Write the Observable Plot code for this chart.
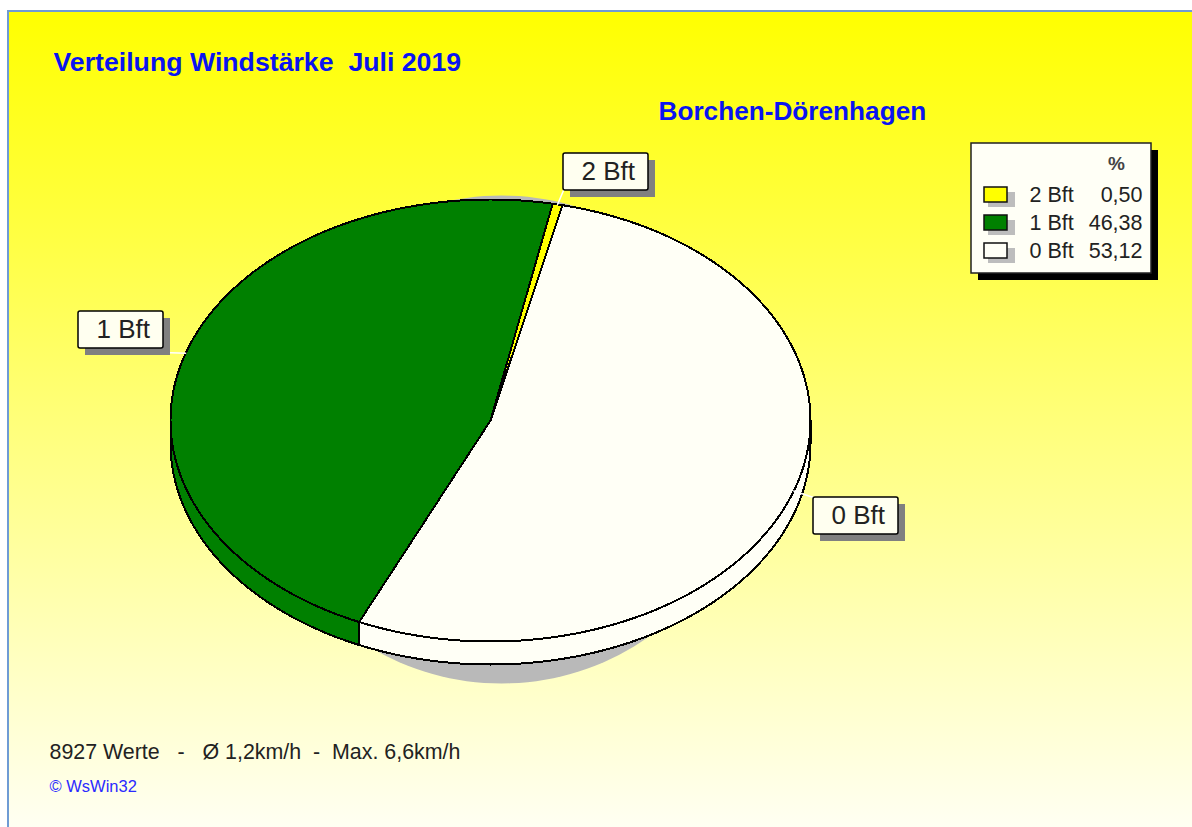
<!DOCTYPE html>
<html lang="de">
<head>
<meta charset="utf-8">
<title>Verteilung Windstärke Juli 2019</title>
<script src="https://cdn.jsdelivr.net/npm/d3@7"></script>
<script src="https://cdn.jsdelivr.net/npm/@observablehq/plot@0.6"></script>
<style>
  html, body { margin: 0; padding: 0; background: #fff; }
  svg { display: block; }
</style>
</head>
<body>
<script>
// ---- data ----
const categories = ["2 Bft", "1 Bft", "0 Bft"];
const shares = [0.50, 46.38, 53.12];
const sliceColors = ["#ffff00", "#008000", "#fffff6"];
const titleText = "Verteilung Windstärke  Juli 2019";
const stationText = "Borchen-Dörenhagen";
const statsText = "8927 Werte   -   Ø 1,2km/h  -  Max. 6,6km/h";
const creditText = "© WsWin32";

// ---- layout ----
const W = 1192, H = 827;
const cx = 490, cy = 420, rx = 320, ry = 221, depth = 23;
const startAngle = 13; // degrees clockwise from the top; slices run counter-clockwise
const X = (p) => (p - cx) / rx;
const Y = (p) => (cy - p) / ry;
const rad = (a) => (a * Math.PI) / 180;
const font = "Liberation Sans, Arial, sans-serif";

// ---- pie geometry derived from the shares ----
let cursor = startAngle;
const slices = categories.map((name, i) => {
  const a0 = cursor, a1 = cursor - (shares[i] / 100) * 360;
  cursor = a1;
  return { name, a0, a1, mid: (a0 + a1) / 2, color: sliceColors[i] };
});
const sweep = (s) => {
  const out = [s.a0];
  for (let a = Math.floor(s.a0); a > s.a1; a -= 1) if (a < s.a0) out.push(a);
  out.push(s.a1);
  return out;
};
const rim = (a, drop = 0) => ({ x: Math.sin(rad(a)), y: Math.cos(rad(a)) - drop / ry });

const topFaces = slices.flatMap((s) => [
  { name: s.name, x: 0, y: 0 },
  ...sweep(s).map((a) => ({ name: s.name, ...rim(a) })),
  { name: s.name, x: 0, y: 0 }
]);
const sideWalls = slices.flatMap((s) => {
  const vis = sweep(s).filter((a) => Math.cos(rad(a)) <= 0.0001);
  if (!vis.length) return [];
  const poly = [...vis.map((a) => rim(a)), ...vis.slice().reverse().map((a) => rim(a, depth))];
  poly.push(poly[0]);
  return poly.map((p) => ({ name: s.name, ...p }));
});
const shadowPts = d3.range(0, 361, 2).map((a) => ({
  x: X(501) + Math.sin(rad(a)) * (250 / rx),
  y: Y(439) + Math.cos(rad(a)) * (244 / ry)
}));

// ---- callouts ----
const calloutLayout = {
  "2 Bft": { boxX: 563, boxY: 153 },
  "1 Bft": { boxX: 78, boxY: 311 },
  "0 Bft": { boxX: 813, boxY: 497 }
};
const BW = 85, BH = 37;
const boxes = categories.map((name) => {
  const c = calloutLayout[name];
  return { name, x1: X(c.boxX), x2: X(c.boxX + BW), y1: Y(c.boxY), y2: Y(c.boxY + BH) };
});
const boxShadows = categories.map((name) => {
  const c = calloutLayout[name];
  return { name, x1: X(c.boxX + 7), x2: X(c.boxX + BW + 7), y1: Y(c.boxY + 7), y2: Y(c.boxY + BH + 7) };
});
const boxLabels = categories.map((name) => {
  const c = calloutLayout[name];
  return { name, x: X(c.boxX + 18), y: Y(c.boxY + 18) };
});
const leaderEnds = { "2 Bft": [563, 190], "1 Bft": [163, 352], "0 Bft": [813, 497] };
const leaders = slices.flatMap((s) => {
  const p = rim(s.mid);
  const [ex, ey] = leaderEnds[s.name];
  return [{ name: s.name, ...p }, { name: s.name, x: X(ex), y: Y(ey) }];
});

// ---- legend ----
const legendRowsY = [195, 223, 251];
const legendRows = categories.map((name, i) => ({
  name,
  color: sliceColors[i],
  value: shares[i].toFixed(2).replace(".", ","),
  tx: X(1029), vx: X(1142), y: Y(legendRowsY[i]),
  x1: X(984), x2: X(1007), y1: Y(legendRowsY[i] - 8), y2: Y(legendRowsY[i] + 7),
  sx1: X(988), sx2: X(1015), sy1: Y(legendRowsY[i] - 3), sy2: Y(legendRowsY[i] + 12)
}));
const r = (a, b, c, d) => [{ x1: X(a), x2: X(b), y1: Y(c), y2: Y(d) }];
const t = (s, px, py) => [{ s, x: X(px), y: Y(py) }];
const rectXY = { x1: "x1", x2: "x2", y1: "y1", y2: "y2" };

const gradient = () => {
  const defs = d3.create("svg:defs");
  const g = defs.append("linearGradient").attr("id", "bg").attr("x1", 0).attr("x2", 0).attr("y1", 0).attr("y2", 1);
  g.append("stop").attr("offset", "0%").attr("stop-color", "#ffff00");
  g.append("stop").attr("offset", "100%").attr("stop-color", "#fffff4");
  return defs.node();
};

const chart = Plot.plot({
  width: W,
  height: H,
  margin: 0,
  style: { background: "#fff", whiteSpace: "pre", fontFamily: font },
  x: { type: "linear", domain: [X(0), X(W)], range: [0, W], axis: null },
  y: { type: "linear", domain: [Y(H), Y(0)], range: [H, 0], axis: null },
  color: { domain: categories, range: sliceColors },
  marks: [
    gradient,
    // background panel and frame
    Plot.rect(r(8, W + 6, 11, H + 6), { ...rectXY, fill: "url(#bg)", stroke: "#6f9bd4", strokeWidth: 2 }),
    // pie shadow
    Plot.line(shadowPts, { x: "x", y: "y", fill: "#b9b9b9", stroke: "none" }),
    // side wall and top faces
    Plot.line(sideWalls, { x: "x", y: "y", z: "name", fill: "name", stroke: "#000", strokeWidth: 2, strokeLinejoin: "round", curve: "linear", shapeRendering: "crispEdges" }),
    Plot.line(topFaces, { x: "x", y: "y", z: "name", fill: "name", stroke: "#000", strokeWidth: 2, strokeLinejoin: "round", curve: "linear", shapeRendering: "crispEdges" }),
    // callouts
    Plot.line(leaders, { x: "x", y: "y", z: "name", stroke: "#fff", strokeWidth: 1.5 }),
    Plot.rect(boxShadows, { ...rectXY, fill: "#808080" }),
    Plot.rect(boxes, { ...rectXY, fill: "#fffff0", stroke: "#000", strokeWidth: 1.5, rx: 2 }),
    Plot.text(boxLabels, { x: "x", y: "y", text: "name", textAnchor: "start", fontSize: 26, fontFamily: font, fill: "#222" }),
    // legend
    Plot.rect(r(978, 1158, 150, 280), { ...rectXY, fill: "#000" }),
    Plot.rect(r(971, 1151, 143, 273), { ...rectXY, fill: "#fffff6", stroke: "#222", strokeWidth: 1.5 }),
    Plot.text(t("%", 1116, 163), { x: "x", y: "y", text: "s", fontSize: 19, fontFamily: font, fill: "#444", fontWeight: "bold" }),
    Plot.rect(legendRows, { x1: "sx1", x2: "sx2", y1: "sy1", y2: "sy2", fill: "#bdbdbd" }),
    Plot.rect(legendRows, { ...rectXY, fill: "name", stroke: "#111", strokeWidth: 1.5 }),
    Plot.text(legendRows, { x: "tx", y: "y", text: "name", textAnchor: "start", fontSize: 21.5, fontFamily: font, fill: "#222" }),
    Plot.text(legendRows, { x: "vx", y: "y", text: "value", textAnchor: "end", fontSize: 21.5, fontFamily: font, fill: "#222" }),
    // titles and notes
    Plot.text(t(titleText, 53, 62), { x: "x", y: "y", text: "s", textAnchor: "start", fontSize: 26.7, fontWeight: "bold", fontFamily: font, fill: "#0a14f0" }),
    Plot.text(t(stationText, 658, 111), { x: "x", y: "y", text: "s", textAnchor: "start", fontSize: 26.2, fontWeight: "bold", fontFamily: font, fill: "#0a14f0" }),
    Plot.text(t(statsText, 49, 752), { x: "x", y: "y", text: "s", textAnchor: "start", fontSize: 21.4, fontFamily: font, fill: "#222" }),
    Plot.text(t(creditText, 49, 786), { x: "x", y: "y", text: "s", textAnchor: "start", fontSize: 16.5, fontFamily: font, fill: "#2b2bff" })
  ]
});
document.body.appendChild(chart);
</script>
</body>
</html>
